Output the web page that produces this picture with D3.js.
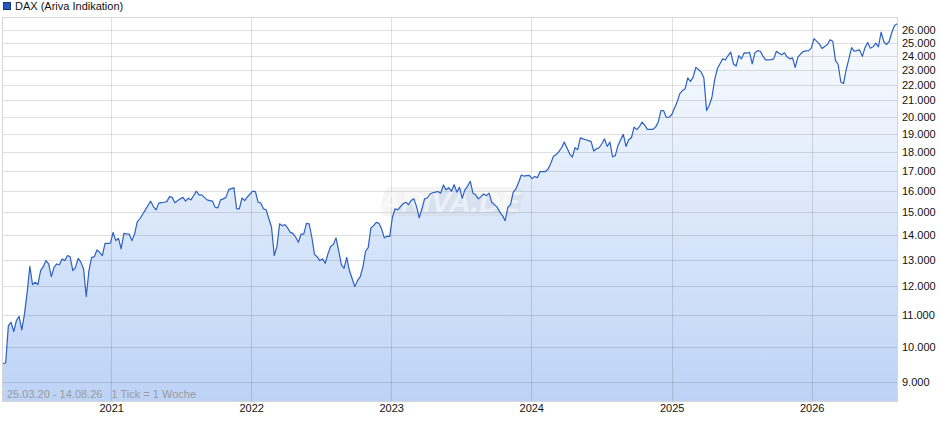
<!DOCTYPE html>
<html>
<head>
<meta charset="utf-8">
<script src="https://cdn.jsdelivr.net/npm/d3@7/dist/d3.min.js"></script>
<style>
  html, body { margin: 0; padding: 0; background: #fff; }
  svg { display: block; font-family: "Liberation Sans", Arial, sans-serif; }
  .pre { white-space: pre; }
</style>
</head>
<body>
<svg id="chart" width="940" height="435"></svg>
<script>
// ---- data (weekly closes) ----
const startDate = "2020-03-25";
const endDate = "2026-08-14";
const seriesName = "DAX (Ariva Indikation)";
const footNote = "25.03.20 - 14.08.26   1 Tick = 1 Woche";
const yTickValues = [9000, 10000, 11000, 12000, 13000, 14000, 15000, 16000, 17000, 18000, 19000, 20000, 21000, 22000, 23000, 24000, 25000, 26000];
// week offsets from the start date
const weeks = [
  0,1,2,3,4,5,6,7,8,9,10,11,12,13,14,15,16,17,18,19,20,21,22,23,24,25,26,27,28,29,
  30,31,32,33,34,35,36,37,38,39,40,41,42,43,44,45,46,47,48,49,50,51,52,53,54,55,56,57,58,59,
  60,61,62,63,64,65,66,67,68,69,70,71,72,73,74,75,76,77,78,79,80,81,82,83,84,85,86,87,88,89,
  90,91,92,93,94,95,96,97,98,99,100,101,102,103,104,105,106,107,108,109,110,111,112,113,114,115,116,117,118,119,
  120,121,122,123,124,125,126,127,128,129,130,131,132,133,134,135,136,137,138,139,140,141,142,143,144,145,146,147,148,149,
  150,151,152,153,154,155,156,157,158,159,160,161,162,163,164,165,166,167,168,169,170,171,172,173,174,175,176,177,178,179,
  180,181,182,183,184,185,186,187,188,189,190,191,192,193,194,195,196,197,198,199,200,201,202,203,204,205,206,207,208,209,
  210,211,212,213,214,215,216,217,218,219,220,221,222,223,224,225,226,227,228,229,230,231,232,233,234,235,236,237,238,239,
  240,241,242,243,244,245,246,247,248,249,250,251,252,253,254,255,256,257,258,259,260,261,262,263,264,265,266,267,268,269,
  270,271,272,273,274,275,276,277,278,279,280,281,282,283,284,285,286,287,288,289,290,291,292,293,294,295,296,297,298,299,
  300,301,302,304,305,306,307,308,309,310,311,312,313,314,315,316,317,318,319,320,321,322,323,324,325,326,327,328,329,330,
  331,332,333
];
const values = [
  9510,9520,10655,10763,10465,10820,10957,10517,11037,11779,12740,12056,12143,12056,12577,12727,12960,12830,12351,12700,12830,12800,13027,12960,13160,13110,12577,12700,13050,12900,
  12640,11630,12577,13090,13110,13384,13290,13160,13653,13650,13660,14112,13765,13860,13425,14070,14050,14040,13765,14040,14577,14700,14900,15098,15303,15501,15250,15098,15410,15430,
  15450,15480,15716,15680,15430,15520,15610,15680,15500,15640,15560,15770,15975,15800,15800,15680,15560,15530,15500,15220,15190,15560,15610,15680,16040,16100,16140,15150,15150,15650,
  15530,15700,15840,15975,15950,15450,15410,15150,15100,14700,14330,13160,13520,14477,14400,14440,14300,14112,14070,13905,13695,14040,14040,14500,14477,13905,13198,13110,12960,13027,
  12856,13225,13520,13600,13880,13358,12805,12660,13090,12577,12280,11983,12200,12340,12700,13330,13480,14300,14400,14545,14500,14250,13880,13950,13940,14770,15150,15100,15250,15380,
  15450,15340,15530,15610,15250,14740,15150,15610,15650,15840,15900,15930,15960,15880,16277,16040,16140,15975,16290,15930,16170,15640,16040,16210,16465,15880,15800,15610,15716,15840,
  15760,15880,15450,15340,15220,15000,14840,14620,15220,15340,15930,16090,16400,16775,16720,16740,16750,16590,16700,16640,16950,16950,16950,17080,17380,17750,17840,18000,18210,18520,
  18210,17880,17700,18210,18100,18760,18700,18650,18600,18550,18030,18150,18210,18430,18700,18280,18520,17720,17780,18330,18650,18960,18280,18650,18760,19375,19230,19410,19670,19480,
  19250,19250,19250,19375,19670,20365,20365,19960,19960,20110,20500,20880,21420,21630,21740,22480,22230,22530,23200,23050,22870,22460,20365,20700,21200,22340,23100,23450,23800,23730,
  24040,24280,23450,23290,24040,23800,24240,24210,24280,23450,24240,24400,24350,24000,23730,23730,23750,23800,24350,24200,24090,24240,23930,23800,23870,23200,23930,24150,24330,24380,
  24400,24580,25300,24900,24550,24700,24850,25200,25100,23690,23400,22200,22100,23050,23800,24620,24350,24400,24450,23980,24620,25000,24580,24680,24960,24680,25790,25080,24850,25080,
  25790,26320,26450
];

// ---- layout ----
const L = 3, R = 898, T = 17, B = 401;
const svg = d3.select("#chart");
const parse = d3.timeParse("%Y-%m-%d");
const t0 = parse(startDate), t1 = parse(endDate);
const data = weeks.map((w, i) => ({ date: d3.timeDay.offset(t0, w * 7), value: values[i] }));

const x = d3.scaleTime().domain([t0, t1]).range([L, R]);
const y = d3.scaleLog().domain([8490, 27000]).range([B, T]);

const de = d3.formatLocale({ decimal: ",", thousands: ".", grouping: [3], currency: ["", " €"] });
const fmt = de.format(",");

// gradient
const defs = svg.append("defs");
const grad = defs.append("linearGradient").attr("id", "fillGrad")
  .attr("gradientUnits", "userSpaceOnUse").attr("x1", 0).attr("x2", 0).attr("y1", T).attr("y2", B);
grad.append("stop").attr("offset", "0%").attr("stop-color", "#fbfdff");
grad.append("stop").attr("offset", "100%").attr("stop-color", "#bdd3f6");

// area
const area = d3.area().x(d => x(d.date)).y0(B).y1(d => y(d.value));
svg.append("path").datum(data).attr("d", area).attr("fill", "url(#fillGrad)");

// grid
const grid = svg.append("g").attr("stroke", "#000").attr("stroke-opacity", 0.12).attr("shape-rendering", "crispEdges");
grid.selectAll("line.h").data(yTickValues).join("line")
  .attr("x1", L).attr("x2", R).attr("y1", d => Math.round(y(d)) + 0.5).attr("y2", d => Math.round(y(d)) + 0.5);
const yearTicks = x.ticks(d3.timeYear.every(1)).filter(d => d > t0);
grid.selectAll("line.v").data(yearTicks).join("line")
  .attr("y1", T).attr("y2", B).attr("x1", d => Math.round(x(d)) + 0.5).attr("x2", d => Math.round(x(d)) + 0.5);

// frame
svg.append("rect").attr("x", L - 0.5).attr("y", T + 0.5).attr("width", R - L).attr("height", B - T)
  .attr("fill", "none").attr("stroke", "#d6d6d6").attr("shape-rendering", "crispEdges");

// watermark
const wm = svg.append("g").attr("transform", "translate(450,201)");
wm.append("rect").attr("x", -68).attr("y", -14).attr("width", 140).attr("height", 29).attr("rx", 8)
  .attr("transform", "skewX(-12)").attr("fill", "#c8c8c8").attr("fill-opacity", 0.2);
wm.append("text").attr("text-anchor", "middle").attr("y", 11).attr("font-size", 30).attr("font-weight", "bold")
  .attr("font-style", "italic").attr("fill", "#ffffff").attr("fill-opacity", 0.5).text("ARIVA.DE");

// line
const line = d3.line().x(d => x(d.date)).y(d => y(d.value));
svg.append("path").datum(data).attr("d", line).attr("fill", "none")
  .attr("stroke", "#2c60c3").attr("stroke-width", 1.2).attr("stroke-linejoin", "round");

// y axis labels
const yAxis = d3.axisRight(y).tickValues(yTickValues).tickFormat(fmt).tickSize(0).tickPadding(0);
const ya = svg.append("g").attr("transform", `translate(${R + 4},0)`).call(yAxis);
ya.select(".domain").remove();
ya.selectAll("text").attr("font-size", 11).attr("fill", "#111").attr("font-family", "Liberation Sans, Arial, sans-serif");

// x axis labels
const xAxis = d3.axisBottom(x).tickValues(yearTicks).tickFormat(d3.timeFormat("%Y")).tickSize(0).tickPadding(0);
const xa = svg.append("g").attr("transform", `translate(0,${B + 3})`).call(xAxis);
xa.select(".domain").remove();
xa.selectAll("text").attr("font-size", 11).attr("fill", "#111").attr("font-family", "Liberation Sans, Arial, sans-serif");

// legend
svg.append("rect").attr("x", 3.5).attr("y", 2.5).attr("width", 7).attr("height", 7)
  .attr("fill", "#2457c0").attr("stroke", "#16357a");
svg.append("text").attr("x", 15).attr("y", 10).attr("font-size", 11).attr("fill", "#111").text(seriesName);

// footnote
svg.append("text").attr("class", "pre").attr("xml:space", "preserve").attr("x", 7).attr("y", 398)
  .attr("font-size", 11).attr("fill", "#9a9a9a").text(footNote);
</script>
</body>
</html>
